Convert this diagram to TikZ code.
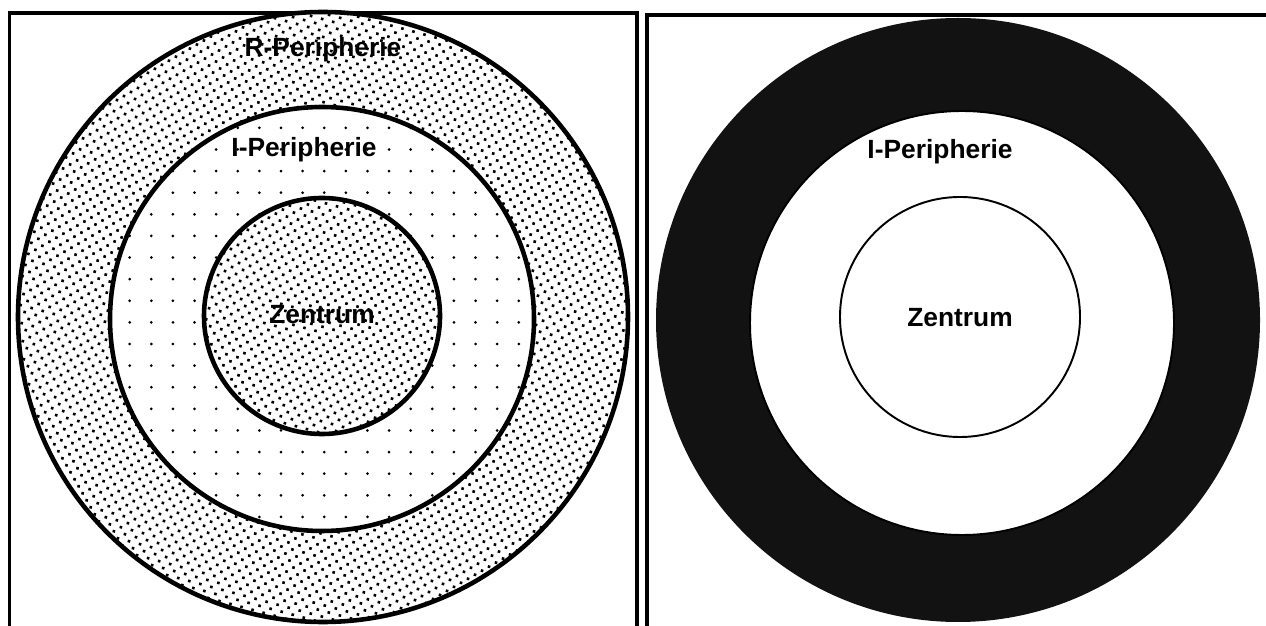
\documentclass[tikz,border=0pt]{standalone}
\usepackage{fontspec}
\setmainfont{Liberation Sans}
\usetikzlibrary{patterns.meta}
\begin{document}
\begin{tikzpicture}[
  frame/.style={draw, line width=2.2pt},
  ring/.style={draw, line width=2.6pt},
  thinring/.style={draw, line width=1.1pt},
  dense/.style={pattern={Dots[radius=1.05pt, distance=4.6pt, angle=30]}},
  sparse/.style={pattern={Dots[radius=0.85pt, distance=12.3pt]}},
  lbl/.style={font=\bfseries\fontsize{15}{18}\selectfont, inner sep=1pt}
]
\useasboundingbox (0,0) rectangle (25.32,12.5);
\clip (0,0) rectangle (25.32,12.5);
\fill[white] (0,0) rectangle (25.32,12.5);
% left panel
\draw[frame] (0.19,-0.5) -- (0.19,12.24) -- (12.74,12.24) -- (12.74,-0.5);
\filldraw[ring, fill=white] (6.46,6.16) circle (6.10);
\path[dense] (6.46,6.16) circle (6.10);
\filldraw[ring, fill=white] (6.44,6.12) circle (4.24);
\path[sparse] (6.44,6.12) circle (4.24);
\filldraw[ring, fill=white] (6.44,6.18) circle (2.36);
\path[dense] (6.44,6.18) circle (2.36);
\node[lbl] (rper) at (6.46,11.50) {R-Peripherie};
\node[lbl] (iperl) at (6.08,9.50) {I-Peripherie};
\node[lbl] (zenl) at (6.44,6.20) {Zentrum};
% right panel
\draw[frame] (12.94,-0.5) -- (12.94,12.2) -- (25.8,12.2);
\fill[black!93] (19.16,6.10) circle (6.04);
\filldraw[thinring, fill=white] (19.24,6.04) circle (4.24);
\draw[thinring] (19.20,6.16) circle (2.40);
\node[lbl] (iperr) at (18.80,9.46) {I-Peripherie};
\node[lbl] (zenr) at (19.20,6.14) {Zentrum};
\end{tikzpicture}
\end{document}
